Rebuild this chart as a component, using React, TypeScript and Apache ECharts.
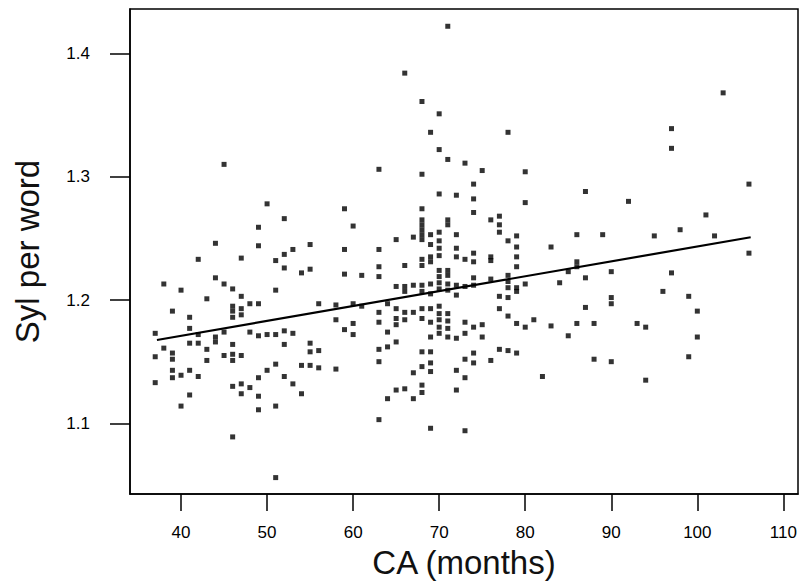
import React, { useEffect, useRef } from "react";
import * as echarts from "echarts";

// CA (months) -> observed syllables per word
const groupsYoung: [number, number[]][] = [
  [37, [1.173, 1.154, 1.133]],
  [38, [1.213, 1.161]],
  [39, [1.191, 1.157, 1.152, 1.143, 1.137]],
  [40, [1.208, 1.139, 1.114]],
  [41, [1.186, 1.177, 1.165, 1.143, 1.123]],
  [42, [1.233, 1.172, 1.165, 1.138]],
  [43, [1.201, 1.16, 1.151]],
  [44, [1.246, 1.218, 1.17, 1.166]],
  [45, [1.31, 1.213, 1.174, 1.155]],
  [46, [1.209, 1.195, 1.191, 1.186, 1.164, 1.156, 1.151, 1.13, 1.089]],
  [47, [1.234, 1.203, 1.193, 1.188, 1.155, 1.132, 1.124]],
  [48, [1.197, 1.174, 1.129]],
  [49, [1.259, 1.244, 1.197, 1.171, 1.137, 1.122, 1.111]],
  [50, [1.278, 1.172, 1.143]],
  [51, [1.232, 1.208, 1.172, 1.148, 1.114, 1.056]],
  [52, [1.266, 1.237, 1.226, 1.175, 1.164, 1.138]],
  [53, [1.241, 1.173, 1.132]],
  [54, [1.222, 1.147, 1.124]],
  [55, [1.245, 1.225, 1.165, 1.158, 1.147]],
  [56, [1.197, 1.159, 1.145]],
  [58, [1.196, 1.184, 1.144]],
  [59, [1.274, 1.241, 1.221, 1.176]],
  [60, [1.26, 1.197, 1.181, 1.172]],
  [61, [1.22, 1.195]],
];

const groupsMiddle: [number, number[]][] = [
  [63, [1.306, 1.241, 1.227, 1.219, 1.19, 1.182, 1.16, 1.15, 1.103]],
  [64, [1.197, 1.174, 1.162, 1.12]],
  [65, [1.249, 1.211, 1.193, 1.185, 1.18, 1.166, 1.127]],
  [66, [1.384, 1.228, 1.211, 1.207, 1.19, 1.184, 1.128]],
  [67, [1.251, 1.212, 1.19, 1.141, 1.12]],
  [68, [1.361, 1.302, 1.274, 1.265, 1.261, 1.257, 1.253, 1.249, 1.233, 1.228, 1.212, 1.207, 1.193, 1.185, 1.158, 1.146, 1.131, 1.125]],
  [69, [1.336, 1.253, 1.245, 1.235, 1.231, 1.213, 1.205, 1.193, 1.182, 1.17, 1.158, 1.149, 1.142, 1.096]],
  [70, [1.351, 1.322, 1.286, 1.255, 1.248, 1.242, 1.236, 1.224, 1.219, 1.214, 1.209, 1.195, 1.189, 1.184, 1.178, 1.173]],
  [71, [1.422, 1.314, 1.265, 1.261, 1.224, 1.22, 1.213, 1.208, 1.189, 1.183, 1.177, 1.17]],
  [72, [1.285, 1.253, 1.242, 1.235, 1.212, 1.204, 1.169, 1.143, 1.127]],
  [73, [1.311, 1.233, 1.211, 1.182, 1.173, 1.152, 1.137, 1.094]],
  [74, [1.294, 1.282, 1.271, 1.238, 1.231, 1.218, 1.212, 1.178, 1.157, 1.149]],
  [75, [1.305, 1.18, 1.17]],
  [76, [1.265, 1.235, 1.232, 1.217, 1.151]],
  [77, [1.268, 1.261, 1.255, 1.203, 1.193, 1.16]],
  [78, [1.336, 1.248, 1.22, 1.215, 1.21, 1.202, 1.187, 1.159]],
  [79, [1.252, 1.243, 1.235, 1.227, 1.21, 1.207, 1.181, 1.157]],
  [80, [1.304, 1.279, 1.213, 1.178]],
];

const groupsOld: [number, number[]][] = [
  [81, [1.184]],
  [82, [1.138]],
  [83, [1.243, 1.179]],
  [84, [1.214]],
  [85, [1.223, 1.171]],
  [86, [1.253, 1.231, 1.227, 1.181]],
  [87, [1.288, 1.218, 1.194]],
  [88, [1.181, 1.152]],
  [89, [1.253]],
  [90, [1.223, 1.202, 1.197, 1.15]],
  [92, [1.28]],
  [93, [1.181]],
  [94, [1.178, 1.135]],
  [95, [1.252]],
  [96, [1.207]],
  [97, [1.339, 1.323, 1.222]],
  [98, [1.257]],
  [99, [1.203, 1.154]],
  [100, [1.191, 1.17]],
  [101, [1.269]],
  [102, [1.252]],
  [103, [1.368]],
  [106, [1.294, 1.238]],
];

// regression line end points (CA, Syl per word)
const fitLine: [number, number][] = [
  [37.2, 1.1676],
  [106.2, 1.2509],
];

const xTicks = [40, 50, 60, 70, 80, 90, 100, 110];
const yTicks = [1.1, 1.2, 1.3, 1.4];

const FONT = "'Liberation Sans', Arial, Helvetica, sans-serif";

export default function App() {
  const ref = useRef<HTMLDivElement>(null);

  useEffect(() => {
    if (!ref.current) return;
    const chart = echarts.init(ref.current, null, { renderer: "svg" });
    const points: [number, number][] = [];
    [...groupsYoung, ...groupsMiddle, ...groupsOld].forEach(([x, ys]) => {
      ys.forEach((y) => points.push([x, y]));
    });

    chart.setOption({
      animation: false,
      backgroundColor: "#ffffff",
      grid: {
        left: 130,
        right: 6,
        top: 9,
        bottom: 90,
        show: true,
        borderColor: "#000",
        borderWidth: 1.5,
        outerBoundsMode: "none",
      },
      xAxis: {
        type: "value",
        min: 34.07,
        max: 111.7,
        name: "CA (months)",
        nameLocation: "middle",
        nameGap: 44,
        nameTextStyle: { fontSize: 33, color: "#111", fontFamily: FONT },
        axisLine: { show: true, lineStyle: { color: "#000", width: 1.5 } },
        axisTick: {
          show: true,
          customValues: xTicks,
          length: 17,
          lineStyle: { color: "#000", width: 1.5 },
        },
        axisLabel: {
          customValues: xTicks,
          margin: 30,
          fontSize: 17,
          color: "#000",
          fontFamily: FONT,
          formatter: (v: number) => String(Math.round(v)),
        },
        splitLine: { show: false },
      },
      yAxis: {
        type: "value",
        min: 1.0427,
        max: 1.436,
        name: "Syl per word",
        nameLocation: "middle",
        nameGap: 86,
        nameTextStyle: { fontSize: 33, color: "#111", fontFamily: FONT },
        axisLine: { show: true, lineStyle: { color: "#000", width: 1.5 } },
        axisTick: {
          show: true,
          customValues: yTicks,
          length: 20,
          lineStyle: { color: "#000", width: 1.5 },
        },
        axisLabel: {
          customValues: yTicks,
          margin: 40,
          fontSize: 17,
          color: "#000",
          fontFamily: FONT,
          formatter: (v: number) => v.toFixed(1),
        },
        splitLine: { show: false },
      },
      series: [
        {
          type: "scatter",
          data: points,
          symbol: "rect",
          symbolSize: 5,
          itemStyle: { color: "#000" },
          silent: true,
        },
        {
          type: "line",
          data: fitLine,
          symbol: "none",
          lineStyle: { color: "#000", width: 2.2 },
          silent: true,
        },
      ],
    });
    return () => chart.dispose();
  }, []);

  return (
    <div
      ref={ref}
      style={{ position: "fixed", left: 0, top: 0, width: 804, height: 584, background: "#fff" }}
    />
  );
}
